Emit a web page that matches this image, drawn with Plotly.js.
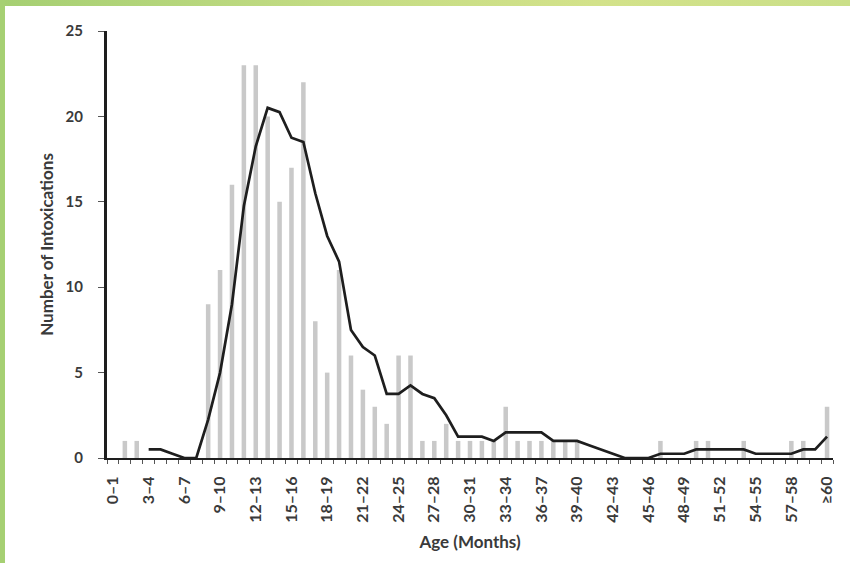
<!DOCTYPE html>
<html>
<head>
<meta charset="utf-8">
<script src="https://cdn.plot.ly/plotly-3.0.1.min.js"></script>
<style>
  html, body { margin:0; padding:0; background:#fff; }
  #wrap { position:relative; width:850px; height:563px; overflow:hidden; background:#fff; }
  #topbar { position:absolute; left:0; top:0; width:850px; height:6px;
            background:linear-gradient(to right, #a5cf72 0%, #c4dc84 40%, #d3e28a 70%, #cadf88 100%); }
  #leftbar { position:absolute; left:0; top:0; width:5px; height:563px; background:#a6d073; }
  #chart { position:absolute; left:0; top:0; width:850px; height:563px; }
</style>
</head>
<body>
<div id="wrap">
  <div id="chart"></div>
  <div id="topbar"></div>
  <div id="leftbar"></div>
</div>
<script>
// Age categories (months)
const categories = ["0–1","1–2","2–3","3–4","4–5","5–6","6–7","7–8","8–9","9–10",
  "10–11","11–12","12–13","13–14","14–15","15–16","16–17","17–18","18–19","19–20",
  "20–21","21–22","22–23","23–24","24–25","25–26","26–27","27–28","28–29","29–30",
  "30–31","31–32","32–33","33–34","34–35","35–36","36–37","37–38","38–39","39–40",
  "40–41","41–42","42–43","43–44","44–45","45–46","46–47","47–48","48–49","49–50",
  "50–51","51–52","52–53","53–54","54–55","55–56","56–57","57–58","58–59","59–60","≥60"];

// Number of intoxications per category (bars)
const counts = [0,1,1,0,0,0,0,0,9,11,
  16,23,23,20,15,17,22,8,5,11,
  6,4,3,2,6,6,1,1,2,1,
  1,1,1,3,1,1,1,1,1,1,
  0,0,0,0,0,0,1,0,0,1,
  1,0,0,1,0,0,0,1,1,0,3];

// Moving-average trend line (starts at "3–4")
const trendCategories = categories.slice(3);
const trendValues = [0.5,0.5,0.25,0,0,2.25,5,9,14.75,18.25,
  20.5,20.25,18.75,18.5,15.5,13,11.5,7.5,6.5,6,
  3.75,3.75,4.25,3.75,3.5,2.5,1.25,1.25,1.25,1,
  1.5,1.5,1.5,1.5,1,1,1,0.75,0.5,0.25,
  0,0,0,0.25,0.25,0.25,0.5,0.5,0.5,0.5,
  0.5,0.25,0.25,0.25,0.25,0.5,0.5,1.25];

// Labelled ticks
const tickLabels = ["0–1","3–4","6–7","9–10","12–13","15–16","18–19","21–22","24–25","27–28",
  "30–31","33–34","36–37","39–40","42–43","45–46","48–49","51–52","54–55","57–58","≥60"];

const idx = c => categories.indexOf(c);
const xBars = categories.map(idx);
const xTrend = trendCategories.map(idx);
const tickPos = tickLabels.map(idx);
const boundaries = [];
for (let i = 0; i <= categories.length; i++) boundaries.push(i - 0.5);

const font = "Lato, 'Open Sans', 'Liberation Sans', sans-serif";
const txt = '#3a3a3a';

const traces = [
  {
    type: 'bar', x: xBars, y: counts, width: 0.38,
    marker: { color: '#c9c9c9' }, hoverinfo: 'skip', showlegend: false
  },
  {
    type: 'scatter', mode: 'lines', x: xTrend, y: trendValues,
    line: { color: '#1e1e1e', width: 2.7 }, showlegend: false
  }
];

const layout = {
  width: 850, height: 563,
  margin: { l: 107, r: 17, t: 31, b: 105 },
  paper_bgcolor: '#ffffff', plot_bgcolor: '#ffffff',
  font: { family: font, color: txt, size: 11 },
  xaxis: {
    range: [-0.5, categories.length - 0.5],
    tickmode: 'array', tickvals: tickPos, ticktext: tickLabels,
    tickangle: -90, ticks: '', showgrid: false, zeroline: false,
    showline: true, linecolor: '#1e1e1e', linewidth: 2,
    ticklabelstandoff: 10,
    tickfont: { family: font, size: 16, color: txt, weight: 'bold' },
    minor: { tickmode: 'array', tickvals: boundaries, ticks: 'outside', ticklen: 4, tickcolor: '#555', tickwidth: 1, showgrid: false },
    title: { text: 'Age (Months)', font: { family: font, size: 17, color: txt, weight: 'bold' }, standoff: 14 },
    fixedrange: true
  },
  yaxis: {
    range: [0, 25], tickvals: [0,5,10,15,20,25], ticks: 'outside', ticklen: 6,
    tickcolor: '#555', tickwidth: 1,
    showgrid: false, zeroline: false,
    showline: true, linecolor: '#1e1e1e', linewidth: 3,
    ticklabelstandoff: 12,
    tickfont: { family: font, size: 15, color: txt, weight: 'bold' },
    title: { text: 'Number of Intoxications', font: { family: font, size: 17, color: txt, weight: 'bold' }, standoff: 8 },
    fixedrange: true
  },
  bargap: 0.6
};

Plotly.newPlot('chart', traces, layout, { displayModeBar: false, staticPlot: true });
</script>
</body>
</html>
